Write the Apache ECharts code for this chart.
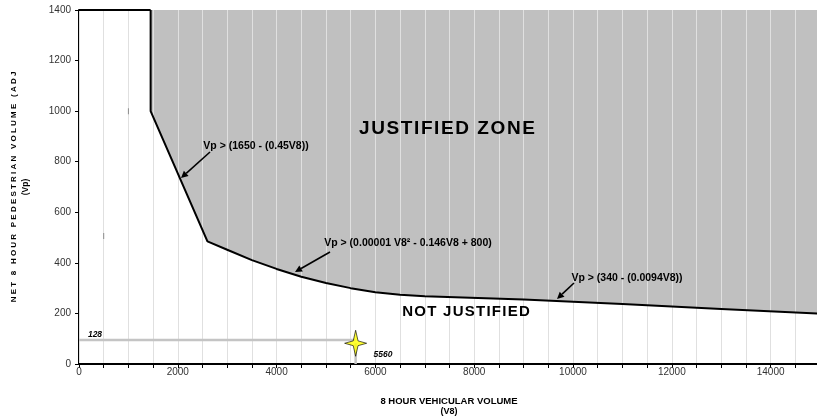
<!DOCTYPE html>
<html>
<head>
<meta charset="utf-8">
<script src="https://cdn.jsdelivr.net/npm/echarts@6/dist/echarts.min.js"></script>
<style>
html, body { margin: 0; padding: 0; background: #fff; }
#chart { width: 817px; height: 417px; }
</style>
</head>
<body>
<div id="chart"></div>
<script>
// boundary of the justified zone (V8, Vp)
const boundaryX = [1450, 1450, 2600, 3000, 3500, 4000, 4500, 5000, 5500, 6000, 6500, 7000, 7000, 9000, 11000, 13000, 15000]
const boundaryY = [1400, 1000, 485, 452, 411, 376, 345, 320, 300, 284, 274, 268, 274, 255, 237, 218, 199]
// top edge of the not-justified area
const topX = [0, 1450]
const topY = [1400, 1400]
// site reading (star) and its guide lines
const siteX = [5600]
const siteY = [82]
const guideX = [0, 5600]
const guideY = [95, 95]
// little stray marks in the plot
const markX = [500, 1000]
const markY = [506, 1000]

const xTickLabels = [0, 2000, 4000, 6000, 8000, 10000, 12000, 14000]

const pairs = (xs, ys) => xs.map((x, i) => [x, ys[i]])

const FONT = '"Liberation Sans", Arial, sans-serif'
const spaced = (s, sep) => s.split('').join(sep)

function arrow (x1, y1, x2, y2) {
  const dx = x2 - x1
  const dy = y2 - y1
  const len = Math.sqrt(dx * dx + dy * dy)
  const ux = dx / len
  const uy = dy / len
  const bx = x2 - ux * 7
  const by = y2 - uy * 7
  const nx = -uy * 3.5
  const ny = ux * 3.5
  return [
    {type: 'line', shape: {x1: x1, y1: y1, x2: bx, y2: by}, style: {stroke: '#000', lineWidth: 1.6}, z: 10},
    {type: 'polygon', shape: {points: [[x2, y2], [bx + nx, by + ny], [bx - nx, by - ny]]}, style: {fill: '#000'}, z: 10}
  ]
}

function label (text, x, y, font, extra) {
  return Object.assign({
    type: 'text',
    x: x,
    y: y,
    z: 10,
    style: {text: text, font: font, fill: '#000', align: 'center', verticalAlign: 'middle'}
  }, extra || {})
}

const chart = echarts.init(document.getElementById('chart'))

const option = {
  animation: false,
  grid: {
    left: 79,
    right: -3,
    top: 10,
    bottom: 53,
    containLabel: false,
    outerBoundsMode: 'none'
  },
  xAxis: {
    type: 'value',
    min: 0,
    max: 15000,
    interval: 500,
    z: 3,
    axisLine: {lineStyle: {color: '#000', width: 2}},
    axisTick: {show: true, length: 4, lineStyle: {color: '#000', width: 1}},
    axisLabel: {
      interval: 0,
      margin: 3,
      color: '#333',
      fontSize: 10,
      fontFamily: FONT,
      formatter: function (v) {
        return xTickLabels.indexOf(v) >= 0 ? String(v) : ''
      }
    },
    splitLine: {show: true, lineStyle: {color: '#e0e0e0', width: 1}}
  },
  yAxis: {
    type: 'value',
    min: 0,
    max: 1400,
    interval: 200,
    axisLine: {show: true, lineStyle: {color: '#000', width: 2}},
    axisTick: {show: true, length: 4, lineStyle: {color: '#000', width: 1}},
    axisLabel: {margin: 8, color: '#333', fontSize: 10, fontFamily: FONT, formatter: v => String(v)},
    splitLine: {show: false}
  },
  series: [
    {
      // gray fill of the justified zone
      type: 'line',
      data: pairs(boundaryX, boundaryY),
      symbol: 'none',
      z: 1,
      lineStyle: {width: 0, opacity: 0},
      areaStyle: {color: '#c0c0c0', opacity: 1, origin: 'end'}
    },
    {
      type: 'line',
      data: pairs(boundaryX, boundaryY),
      symbol: 'none',
      z: 5,
      lineStyle: {color: '#000', width: 2}
    },
    {
      type: 'line',
      data: pairs(topX, topY),
      symbol: 'none',
      z: 5,
      lineStyle: {color: '#000', width: 2}
    },
    {
      type: 'line',
      data: pairs(guideX, guideY),
      symbol: 'none',
      z: 5,
      lineStyle: {color: '#c4c4c4', width: 2.5}
    },
    {
      type: 'line',
      data: [[siteX[0], siteY[0]], [siteX[0], 0]],
      symbol: 'none',
      z: 5,
      lineStyle: {color: '#c4c4c4', width: 2.5}
    },
    {
      type: 'scatter',
      data: pairs(markX, markY),
      symbol: 'rect',
      symbolSize: [1, 6],
      z: 5,
      itemStyle: {color: '#777'}
    },
    {
      type: 'scatter',
      data: pairs(siteX, siteY),
      symbol: 'path://M0,-12 L2.2,-2.2 L10,0 L2.2,2.2 L0,12 L-2.2,2.2 L-10,0 L-2.2,-2.2 Z',
      symbolSize: [22, 26],
      z: 6,
      itemStyle: {color: '#ffff00', borderColor: '#000', borderWidth: 0.8}
    }
  ],
  graphic: [
    label(spaced('JUSTIFIED ZONE', '\u200A'), 447, 129, 'bold 19px ' + FONT),
    label(spaced('NOT JUSTIFIED', '\u200A'), 466, 312, 'bold 15px ' + FONT),
    label('Vp > (1650 - (0.45V8))', 256, 146, 'bold 10.5px ' + FONT),
    label('Vp > (0.00001 V8\u00B2 - 0.146V8 + 800)', 408, 243, 'bold 10.5px ' + FONT),
    label('Vp > (340 - (0.0094V8))', 627, 278, 'bold 10.5px ' + FONT),
    label('128', 95, 335, 'italic bold 8.5px ' + FONT),
    label('5560', 383, 355, 'italic bold 8.5px ' + FONT),
    label('8 HOUR VEHICULAR VOLUME', 449, 401, 'bold 9.5px ' + FONT),
    label('(V8)', 449, 412, 'bold 9px ' + FONT),
    label(spaced('NET 8 HOUR PEDESTRIAN VOLUME (ADJ', ' '), 14, 187, 'bold 8px ' + FONT, {rotation: Math.PI / 2}),
    label('(Vp)', 26, 187, 'bold 8.5px ' + FONT, {rotation: Math.PI / 2})
  ].concat(arrow(210, 152, 181, 178), arrow(330, 252, 295, 272), arrow(574, 283, 557, 299))
}

chart.setOption(option)
</script>
</body>
</html>
